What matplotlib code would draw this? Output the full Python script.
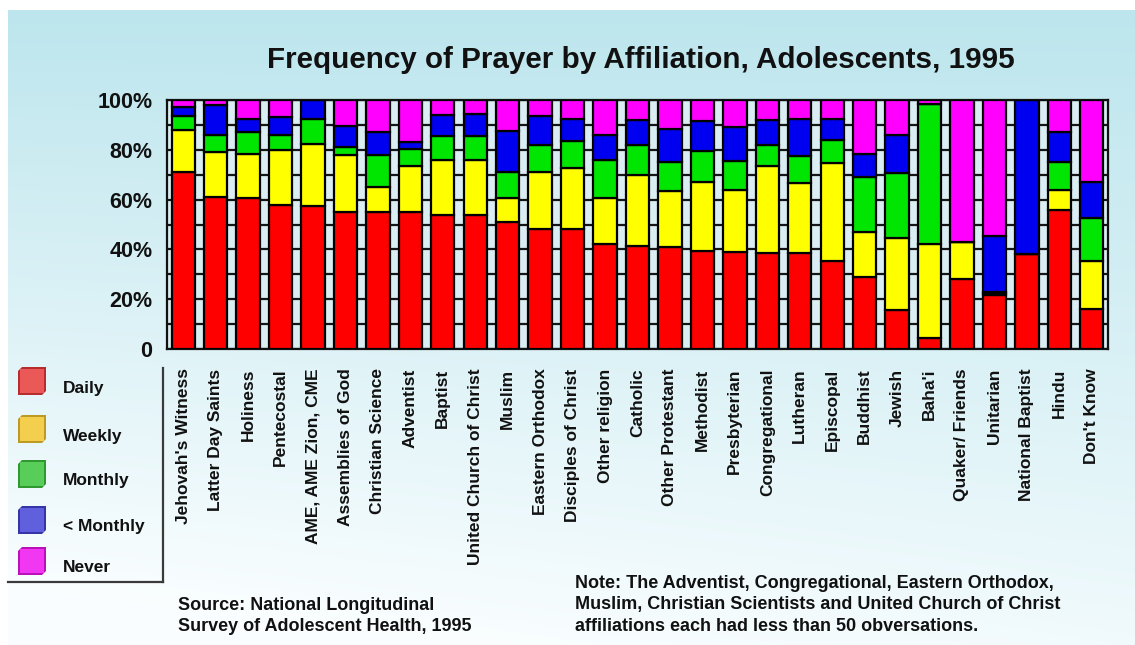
import numpy as np
import matplotlib
matplotlib.use("Agg")
import matplotlib.pyplot as plt
from matplotlib.patches import Rectangle, Polygon
from matplotlib import font_manager

# ---- data -------------------------------------------------------------
affiliations = [
    "Jehovah's Witness", "Latter Day Saints", "Holiness", "Pentecostal",
    "AME, AME Zion, CME", "Assemblies of God", "Christian Science", "Adventist",
    "Baptist", "United Church of Christ", "Muslim", "Eastern Orthodox",
    "Disciples of Christ", "Other religion", "Catholic", "Other Protestant",
    "Methodist", "Presbyterian", "Congregational", "Lutheran", "Episcopal",
    "Buddhist", "Jewish", "Baha'i", "Quaker/ Friends", "Unitarian",
    "National Baptist", "Hindu", "Don't Know",
]

daily = [71, 61, 60.5, 58, 57.5, 55, 55, 55, 54, 54, 51, 48, 48, 42, 41.5,
         41, 39.5, 39, 38.5, 38.5, 35.5, 29, 15.5, 4.5, 28, 21.5, 38, 56, 16]
weekly = [17, 18, 18, 22, 25, 23, 10, 18.5, 22, 22, 9.5, 23, 24.5, 18.5, 28.5,
          22.5, 27.5, 25, 35, 28, 39, 18, 29, 37.5, 15, 1, 0, 8, 19.5]
monthly = [5.5, 7, 8.5, 6, 10, 3, 13, 7, 9.5, 9.5, 10.5, 11, 11, 15.5, 12,
           11.5, 12.5, 11.5, 8.5, 11, 9.5, 22, 26, 56.5, 0, 0.5, 0, 11, 17]
less_monthly = [3.5, 12, 5.5, 7, 7.5, 8.5, 9, 2.5, 8.5, 9, 16.5, 11.5, 9, 10,
                10, 13.5, 12, 13.5, 10, 15, 8.5, 9.5, 15.5, 0, 0, 22.5, 62, 12, 14.5]
never = [3, 2, 7.5, 7, 0, 10.5, 13, 17, 6, 5.5, 12.5, 6.5, 7.5, 14, 8,
         11.5, 8.5, 11, 8, 7.5, 7.5, 21.5, 14, 1.5, 57, 54.5, 0, 13, 33]

series_names = ["Daily", "Weekly", "Monthly", "< Monthly", "Never"]
series_values = [daily, weekly, monthly, less_monthly, never]
bar_colors = ["#ff0000", "#ffff00", "#00e600", "#0000f0", "#ff00ff"]
legend_colors = ["#e83a3a", "#f2c62e", "#3cc43c", "#4444d8", "#ee14ee"]

y_ticks = [0, 20, 40, 60, 80, 100]
y_tick_labels = ["0", "20%", "40%", "60%", "80%", "100%"]

title = "Frequency of Prayer by Affiliation, Adolescents, 1995"
source = "Source: National Longitudinal\nSurvey of Adolescent Health, 1995"
note = ("Note: The Adventist, Congregational, Eastern Orthodox,\n"
        "Muslim, Christian Scientists and United Church of Christ\n"
        "affiliations each had less than 50 obversations.")

# ---- fonts ------------------------------------------------------------
installed = {f.name for f in font_manager.fontManager.ttflist}
bold_family = ["Liberation Sans", "DejaVu Sans"]
narrow_family = (["Liberation Sans Narrow", "Liberation Sans", "DejaVu Sans"]
                 if "Liberation Sans Narrow" in installed else bold_family)
narrow_size = 15 if "Liberation Sans Narrow" in installed else 12.5

W, H = 1135, 645
fig = plt.figure(figsize=(W / 100, H / 100), dpi=100)
fig.patch.set_facecolor("white")

# ---- background panel with a soft cyan gradient ------------------------
bg = fig.add_axes([0, 0, 1, 1], zorder=-10)
bg.set_xlim(0, W)
bg.set_ylim(H, 0)
bg.axis("off")
ny, nx = 200, 200
yy, xx = np.mgrid[0:1:ny * 1j, 0:1:nx * 1j]
t = np.clip(0.85 * yy + 0.25 * (1 - xx) * yy, 0, 1)
top = np.array([0.74, 0.90, 0.93])
bottom = np.array([0.98, 0.995, 1.0])
grad = top[None, None, :] * (1 - t[..., None]) + bottom[None, None, :] * t[..., None]
bg.imshow(grad, extent=[8, W, H, 10], aspect="auto", interpolation="bilinear", zorder=0)

# ---- main chart -------------------------------------------------------
ax = fig.add_axes([167 / W, 1 - 349 / H, 941 / W, 249 / H])
ax.set_facecolor("#d9edf2")
x = np.arange(len(affiliations))
bottoms = np.zeros(len(affiliations))
for vals, col in zip(series_values, bar_colors):
    ax.bar(x, vals, bottom=bottoms, width=0.72, color=col,
           edgecolor="black", linewidth=1.6, zorder=3)
    bottoms += np.array(vals)

ax.set_xlim(-0.5, len(affiliations) - 0.5)
ax.set_ylim(0, 100)
ax.set_yticks(y_ticks)
ax.set_yticklabels(y_tick_labels, fontsize=15.5, fontweight="bold",
                   family=bold_family, color="#111111")
ax.set_yticks(np.arange(10, 100, 10), minor=True)
ax.grid(True, axis="y", which="both", color="#151515", linewidth=1.6, zorder=0)
ax.set_axisbelow(True)
ax.set_xticks(x)
ax.set_xticklabels(affiliations, rotation=90, fontsize=narrow_size,
                   fontweight="bold", family=narrow_family, va="top", ha="center",
                   color="#111111")
ax.tick_params(axis="both", which="both", length=0)
ax.tick_params(axis="y", pad=10.5)
ax.tick_params(axis="x", pad=14)
for s in ax.spines.values():
    s.set_color("#111111")
    s.set_linewidth(1.6)

# ---- title ------------------------------------------------------------
fig.text(641 / W, 1 - 60 / H, title, ha="center", va="center", fontsize=21.3,
         fontweight="bold", family=bold_family, color="#111111")

# ---- legend -----------------------------------------------------------
legend_rows = [383, 431, 476, 522, 563]
for name, col, yc in zip(series_names, legend_colors, legend_rows):
    rgb = np.array(matplotlib.colors.to_rgb(col))
    dark = tuple(rgb * 0.78)
    light = tuple(np.clip(rgb + (1 - rgb) * 0.15, 0, 1))
    x0, s, d = 18, 24, 4
    # side/back of the cube
    bg.add_patch(Polygon([(x0, yc - s / 2), (x0 + d, yc - s / 2 - d),
                          (x0 + s + d, yc - s / 2 - d), (x0 + s + d, yc + s / 2 - d),
                          (x0 + s, yc + s / 2), (x0, yc + s / 2)],
                         closed=True, facecolor=dark, edgecolor="none", zorder=2))
    # front face
    bg.add_patch(Rectangle((x0 + d * 0.5, yc - s / 2 - d * 0.5), s, s,
                           facecolor=light, edgecolor="none", zorder=3))
    bg.text(63, yc + 5, name, ha="left", va="center", fontsize=12.5,
            fontweight="bold", family=bold_family, color="#111111", zorder=4)
bg.plot([163, 163], [368, 582], color="#3a3a3a", linewidth=1.6, zorder=4)
bg.plot([8, 163], [582, 582], color="#3a3a3a", linewidth=1.6, zorder=4)

# ---- footnotes --------------------------------------------------------
bg.text(178, 616, source, ha="left", va="center", fontsize=13, fontweight="bold",
        family=bold_family, color="#111111", linespacing=1.35)
bg.text(575, 605, note, ha="left", va="center", fontsize=13, fontweight="bold",
        family=bold_family, color="#111111", linespacing=1.35)

fig.savefig("out.png", dpi=100)
